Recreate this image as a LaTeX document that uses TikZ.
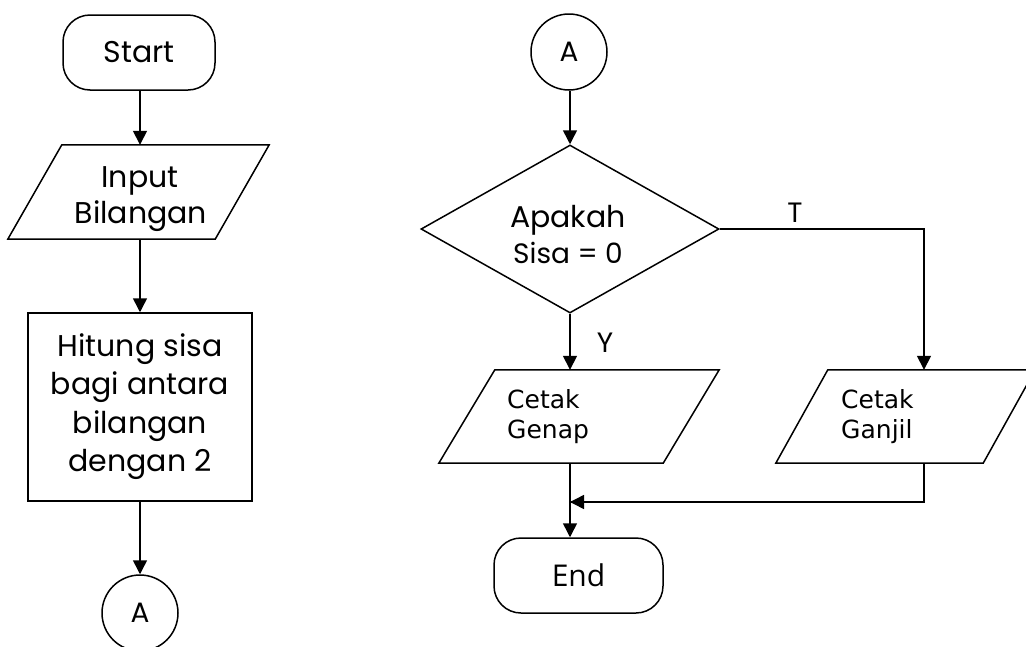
\documentclass[tikz,border=0pt]{standalone}
\usepackage{fontspec}
\setmainfont{Poppins}
\newfontfamily\prfont{DejaVu Sans}
\newfontfamily\endfont{Open Sans}
\usetikzlibrary{shapes.geometric,arrows.meta,calc}
\tikzset{
  shp/.style={draw=black, line width=1.5pt, inner sep=0pt, fill=none},
  term/.style={shp, rectangle, rounded corners=27pt},
  parabox/.style={rectangle, inner sep=0pt, draw=none},
  proc/.style={shp, rectangle},
  dec/.style={shp, diamond},
  conn/.style={shp, circle, minimum size=76pt},
  arr/.style={line width=1.5pt, -{Triangle[width=14pt,length=14pt]}},
  ln/.style={line width=1.5pt},
  big/.style={inner sep=0pt, anchor=base, font=\fontsize{30}{36}\selectfont},
  sml/.style={inner sep=0pt, anchor=base west, font=\prfont\fontsize{25}{30}\selectfont},
  lab/.style={inner sep=0pt, font=\fontsize{28}{34}\selectfont}
}
\newcommand{\drawpara}[2]{%
  \draw[ln, line join=miter] (#1.south west) -- ($(#1.north west)+(#2,0)$) -- (#1.north east) -- ($(#1.south east)-(#2,0)$) -- cycle;}
\begin{document}
\begin{tikzpicture}[x=1pt,y=-1pt]
\useasboundingbox (0,0) rectangle (1026,646);
% left column
\node[term, minimum width=152pt, minimum height=75pt, font=\fontsize{30}{36}\selectfont] (start) at (139,52.5) {Start};
\node[parabox, minimum width=261pt, minimum height=94pt] (input) at (138.5,192) {};
\drawpara{input}{54}
\node[big] (tin1) at (140,187) {Input};
\begin{scope}
\clip (0,145) rectangle (300,231);
\node[big] (tin2) at (141,223) {Bilangan};
\end{scope}
\node[proc, minimum width=224pt, minimum height=188pt] (proc) at (140,407) {};
\node[big] (tp1) at (140,356) {Hitung sisa};
\node[big] (tp2) at (140,394.5) {bagi antara};
\node[big] (tp3) at (140,433) {bilangan};
\node[big] (tp4) at (140,471.5) {dengan 2};
\node[conn, font=\fontsize{28}{34}\selectfont] (a1) at (140,613) {A};
\draw[arr] (start.south -| proc.north) -- (proc.north |- input.north);
\draw[arr] (input.south -| proc.north) -- (proc.north);
\draw[arr] (proc.south) -- (a1.north);
% right part
\node[conn, font=\fontsize{28}{34}\selectfont] (a2) at (569,52) {A};
\node[dec, minimum width=298pt, minimum height=168pt] (dec) at (570,229) {};
\node[big] (td1) at (568,227) {Apakah};
\node[big, font=\fontsize{28}{34}\selectfont] (td2) at (568,263) {Sisa = 0};
\node[parabox, minimum width=280pt, minimum height=93pt] (genap) at (579,416.5) {};
\drawpara{genap}{56}
\node[sml] (tg1) at (507,408) {Cetak};
\node[sml] (tg2) at (507,438) {Genap};
\node[parabox, minimum width=259pt, minimum height=93pt] (ganjil) at (905.5,416.5) {};
\drawpara{ganjil}{52}
\node[sml] (tj1) at (841,408) {Cetak};
\node[sml] (tj2) at (841,438) {Ganjil};
\node[term, minimum width=169pt, minimum height=75pt, font=\endfont\fontsize{30}{36}\selectfont] (end) at (578.5,575.5) {End};
\coordinate (gx) at (924,0);
\coordinate (merge) at (570,502);
\draw[arr] (a2.south -| dec.north) -- (dec.north);
\draw[arr] (dec.south) -- (dec.south |- genap.north);
\draw[arr] (dec.east) -| (gx |- ganjil.north);
\draw[ln] (gx |- ganjil.south) |- (merge);
\draw[arr] (gx |- merge) -- (merge);
\draw[arr] (merge |- genap.south) -- (merge |- end.north);
\node[lab] (ly) at (605,343) {Y};
\node[lab] (lt) at (795,213) {T};
\end{tikzpicture}
\end{document}
